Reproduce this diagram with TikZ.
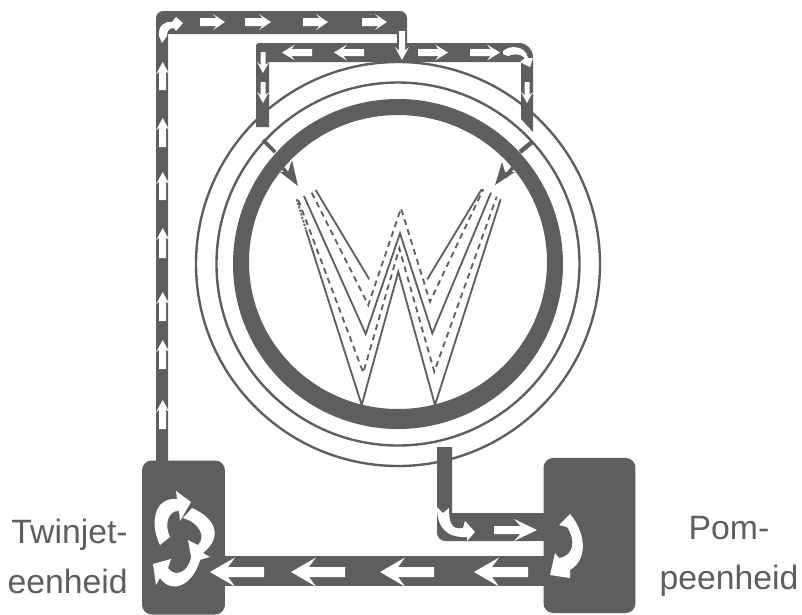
\documentclass[tikz,border=0pt]{standalone}
\usepackage{fontspec}
\setmainfont{Liberation Sans}
\usepackage{tikz}
\usetikzlibrary{positioning}
\definecolor{ductGray}{HTML}{5D5E60}
% pos, angle, length, half shaft, half head, head length
\newcommand{\flowarrow}[6]{%
    \fill[white, shift={(#1)}, rotate=#2] (0,-#4) -- ({#3-0.72*#6},-#4) -- ({#3-#6},-#5) -- (#3,0)
        -- ({#3-#6},#5) -- ({#3-0.72*#6},#4) -- (0,#4) -- cycle;}

\begin{document}
\begin{tikzpicture}[
    x=0.025cm, y=-0.025cm,
    duct/.style={fill=ductGray},
    unitbox/.style={fill=ductGray, rounded corners=7pt, inner sep=0pt},
    shell/.style={draw=ductGray, line width=1.7pt},
    plain/.style={draw=ductGray, line width=1.3pt},
    dashline/.style={draw=ductGray, line width=1.3pt, dash pattern=on 4.2pt off 3.2pt},
    fineline/.style={draw=ductGray, line width=1.3pt, dash pattern=on 1.6pt off 1pt},
    unitlabel/.style={text=ductGray, font=\fontsize{24}{35.5}\selectfont, inner sep=0pt},
    injector/.style={fill=ductGray},
]
    \useasboundingbox (0,0) rectangle (802,614);

    % Vessel
    \draw[shell] (398,264) circle (202);
    \draw[shell] (398,264) circle (181.5);
    \fill[ductGray, even odd rule] (398,264) circle (165) (398,262) ellipse (149 and 147);

    % Spray pattern
    \draw[fineline] (296.7,199.3) -- (306,230);
    \draw[plain] (306,230) -- (361.7,405) -- (398.3,271.7) -- (435,405) -- (500.7,199.3);
    \draw[dashline] (298.3,200) -- (363.3,372.7) -- (399.3,248.3) -- (434.3,371.7) -- (496.7,196.7);
    \draw[plain] (304,196) -- (365.7,334) -- (400,233.3) -- (432.3,333.3) -- (491,192.7);
    \draw[dashline] (311.7,192.7) -- (368.3,305) -- (401,208.3) -- (430,301.7) -- (483.3,189.3);
    \draw[plain] (315.7,190) -- (369.3,279.3);
    \draw[plain] (427.3,279.3) -- (481.7,189.3);

    % Injectors
    \draw[ductGray, line width=2.6pt] (263,140) -- (275,152);
    \draw[ductGray, line width=3.2pt] (532,142) -- (520,152);
    \draw[ductGray, line width=2.6pt] (274,157) -- (290,177);
    \draw[ductGray, line width=2.6pt] (522,157) -- (505,177);
    \fill[injector] (298,186) -- (292,160) -- (288,172) -- (280,172) -- cycle;
    \fill[injector] (495,185) -- (502,162) -- (505,172) -- (515,172) -- cycle;

    % Ducts
    \fill[duct] (168,461) -- (156,461) [rounded corners=5pt] -- (156,11) -- (407,11) [sharp corners] -- (407,46)
        -- (397,46) -- (397,34) -- (168,34) -- cycle;
    \fill[duct] (256,127) [rounded corners=2pt] -- (256,43) [rounded corners=10pt] -- (533,43) [sharp corners]
        -- (533,132) -- (521,119) -- (521,62) -- (269,62) -- (269,127) -- cycle;
    \fill[duct] (452,447) -- (437,447) [rounded corners=6pt] -- (437,541) [sharp corners] -- (550,541)
        -- (550,513) -- (452,513) -- cycle;
    \fill[duct] (220,556) rectangle (550,586);

    % Units
    \node[unitbox, minimum width=59pt, minimum height=109.5pt] (twinjet) at (183.5,537.5) {};
    \node[unitbox, minimum width=65.4pt, minimum height=110.3pt] (pomp) at (589.5,535.5) {};
    \fill[white] (530,541) rectangle (542,556);

    % Labels
    \node[unitlabel, anchor=east, align=right] (twinlabel) at (128,556) {Twinjet-\\eenheid};
    \node[unitlabel, align=center] (pomplabel) at (729,556) {Pom-\\peenheid};

    % Flow arrows
    \foreach \ypos/\len in {429/29,369/29,321/29,258/30,200/28,147/29,90/28} {
        \flowarrow{162.7,\ypos}{90}{\len}{3.5}{7}{13}
    }
    \foreach \xpos/\len in {200/25,245/26,303/25,362/25} {
        \flowarrow{\xpos,22}{0}{\len}{4}{8}{12}
    }
    \foreach \xpos in {418,470} {
        \flowarrow{\xpos,52.5}{0}{30}{3.5}{8}{13}
    }
    \foreach \xpos in {312,364} {
        \flowarrow{\xpos,52.5}{180}{30}{3.5}{8}{13}
    }
    \flowarrow{402,31}{-90}{29}{3}{7}{13}
    \foreach \xpos/\ypos in {263/52,263/82,527/82} {
        \flowarrow{\xpos,\ypos}{-90}{21}{2.5}{6}{11}
    }
    \flowarrow{494,530}{0}{43}{4}{11}{23}
    \foreach \xpos in {264,345,434,528} {
        \flowarrow{\xpos,572}{180}{54}{5}{14.5}{25}
    }

    % Bends
    \fill[white] (159,36) .. controls (158,26) and (164,21) .. (172,22) -- (176,17) -- (183,23) -- (176,31)
        -- (174,28) .. controls (169,28) and (167,31) .. (167,36) -- (162,43) -- cycle;
    \fill[white] (503,51) .. controls (510,45) and (525,45) .. (528,58) -- (533,58) -- (530,67) -- (520,62)
        -- (525,58) .. controls (520,53) and (513,54) .. (508,56) -- (503,54) -- cycle;
    \fill[white] (437,507) .. controls (437,528) and (447,538) .. (467,537) -- (467,541) -- (475,532) -- (465,521)
        -- (463,528) .. controls (452,530) and (449,524) .. (449,508) -- (443,513) -- cycle;
    \fill[white] (570,514) .. controls (584,530) and (590,558) .. (570,570) -- (570,578) -- (550,575) -- (555,553)
        -- (559,558) .. controls (574,556) and (576,540) .. (567,527) -- (559,525) -- cycle;
    \fill[white] (160,545) .. controls (150,525) and (153,497) .. (177,499) -- (176,491) -- (191,502) -- (180,521)
        -- (179,511) .. controls (168,510) and (164,525) .. (170,537) -- cycle;
    \fill[white] (192,508) .. controls (213,517) and (225,535) .. (203,553) -- (210,557) -- (192,562) -- (188,540)
        -- (198,545) .. controls (206,537) and (200,523) .. (183,518) -- cycle;
    \fill[white] (200,560) .. controls (193,585) and (172,595) .. (160,578) -- (156,585) -- (153,564) -- (171,559)
        -- (168,568) .. controls (175,578) and (188,572) .. (191,558) -- cycle;
\end{tikzpicture}
\end{document}
